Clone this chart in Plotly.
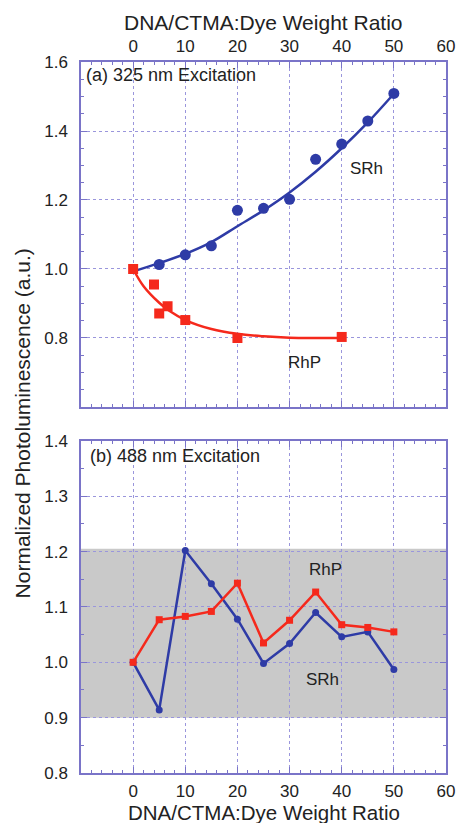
import plotly.graph_objects as go

# ---- data ----
# (a) 325 nm excitation
a_srh_x = [5, 10, 15, 20, 25, 30, 35, 40, 45, 50]
a_srh_y = [1.013, 1.041, 1.067, 1.170, 1.176, 1.202, 1.318, 1.362, 1.429, 1.509]
a_srh_fit_x = [0, 5, 10, 15, 20, 25, 30, 35, 40, 45, 50]
a_srh_fit_y = [0.993, 1.017, 1.044, 1.078, 1.124, 1.170, 1.222, 1.282, 1.350, 1.425, 1.508]

a_rhp_x = [0, 4, 5, 6.6, 10, 20, 40]
a_rhp_y = [1.000, 0.955, 0.871, 0.892, 0.852, 0.800, 0.803]
a_rhp_fit_x = [0, 2, 5, 7, 10, 15, 20, 25, 30, 35, 40]
a_rhp_fit_y = [1.000, 0.950, 0.902, 0.878, 0.852, 0.826, 0.812, 0.805, 0.801, 0.800, 0.800]

# (b) 488 nm excitation
b_x = [0, 5, 10, 15, 20, 25, 30, 35, 40, 45, 50]
b_srh_y = [1.000, 0.914, 1.202, 1.142, 1.078, 0.998, 1.034, 1.090, 1.046, 1.055, 0.987]
b_rhp_y = [1.000, 1.077, 1.083, 1.092, 1.143, 1.035, 1.076, 1.127, 1.068, 1.063, 1.055]
b_band = [0.9, 1.205]

x_range = [-10, 60]
x_ticks = [0, 10, 20, 30, 40, 50, 60]
a_y_ticks = [0.8, 1.0, 1.2, 1.4, 1.6]
b_y_ticks = [0.8, 0.9, 1.0, 1.1, 1.2, 1.3, 1.4]

X_TITLE = "DNA/CTMA:Dye Weight Ratio"
Y_TITLE = "Normalized Photoluminescence (a.u.)"

BLUE = "#2e3ba6"
RED = "#f5291c"
FRAME = "#7a74c8"
GRID = "#9a96dc"
TXT = "#222222"
FONT = "Liberation Sans, Arial, sans-serif"

fig = go.Figure()

# top panel (x2, y2)
fig.add_trace(go.Scatter(x=a_srh_fit_x, y=a_srh_fit_y, mode="lines", line=dict(color=BLUE, width=2.5, shape="spline"),
                         xaxis="x2", yaxis="y2", showlegend=False))
fig.add_trace(go.Scatter(x=a_srh_x, y=a_srh_y, mode="markers", marker=dict(color=BLUE, size=11, symbol="circle"),
                         xaxis="x2", yaxis="y2", showlegend=False))
fig.add_trace(go.Scatter(x=a_rhp_fit_x, y=a_rhp_fit_y, mode="lines", line=dict(color=RED, width=2.5, shape="spline"),
                         xaxis="x2", yaxis="y2", showlegend=False))
fig.add_trace(go.Scatter(x=a_rhp_x, y=a_rhp_y, mode="markers", marker=dict(color=RED, size=10, symbol="square"),
                         xaxis="x2", yaxis="y2", showlegend=False))

# bottom panel (x, y)
fig.add_trace(go.Scatter(x=b_x, y=b_srh_y, mode="lines+markers", line=dict(color=BLUE, width=2.5),
                         marker=dict(color=BLUE, size=7, symbol="circle"), showlegend=False))
fig.add_trace(go.Scatter(x=b_x, y=b_rhp_y, mode="lines+markers", line=dict(color=RED, width=2.5),
                         marker=dict(color=RED, size=7, symbol="square"), showlegend=False))

fig.add_shape(type="rect", xref="x", yref="y", x0=x_range[0], x1=x_range[1], y0=b_band[0], y1=b_band[1],
              fillcolor="#c9c9c9", line=dict(width=0), layer="below")

common_x = dict(range=x_range, tickvals=x_ticks, showgrid=True, gridcolor=GRID, griddash="dot", gridwidth=1,
                showline=True, linecolor=FRAME, linewidth=1.5, mirror="allticks", ticks="inside", ticklen=6,
                tickcolor=FRAME, zeroline=False,
                minor=dict(dtick=2, tick0=0, ticks="inside", ticklen=3, tickcolor=FRAME, showgrid=False),
                tickfont=dict(family=FONT, size=17, color=TXT))
common_y = dict(showgrid=True, gridcolor=GRID, griddash="dot", gridwidth=1, showline=True, linecolor=FRAME,
                linewidth=1.5, mirror="allticks", ticks="inside", ticklen=6, tickcolor=FRAME, zeroline=False,
                tickformat=".1f", ticklabelstandoff=8, tickfont=dict(family=FONT, size=17, color=TXT))

# the page body has an 8px default margin, so the figure is sized/margined to land on the reference frame
fig.update_layout(
    width=459, height=815,
    margin=dict(l=73, r=14, t=54, b=50),
    paper_bgcolor="white", plot_bgcolor="white",
    xaxis=dict(**common_x, domain=[0, 1], anchor="y", side="bottom", ticklabelstandoff=2),
    yaxis=dict(**common_y, domain=[0, 0.467], range=[0.8, 1.4], tickvals=b_y_ticks,
               minor=dict(dtick=0.05, tick0=0.8, ticks="inside", ticklen=3, tickcolor=FRAME, showgrid=False),
               anchor="x"),
    xaxis2=dict(**common_x, domain=[0, 1], anchor="y2", side="top", ticklabelstandoff=1),
    yaxis2=dict(**common_y, domain=[0.5148, 1], range=[0.6, 1.6], tickvals=a_y_ticks,
                minor=dict(dtick=0.05, tick0=0.6, ticks="inside", ticklen=3, tickcolor=FRAME, showgrid=False),
                anchor="x2"),
    annotations=[
        dict(text=X_TITLE, xref="paper", yref="paper", x=0.5, y=1.0549, xanchor="center", yanchor="middle",
             showarrow=False, font=dict(family=FONT, size=21, color=TXT)),
        dict(text=X_TITLE, xref="paper", yref="paper", x=0.5, y=-0.0555, xanchor="center", yanchor="middle",
             showarrow=False, font=dict(family=FONT, size=20.5, color=TXT)),
        dict(text=Y_TITLE, xref="paper", yref="paper", x=-0.161, y=0.492,
             xanchor="center", yanchor="middle", textangle=-90, showarrow=False,
             font=dict(family=FONT, size=21, color=TXT)),
        dict(text="(a) 325 nm Excitation", xref="x2 domain", yref="y2 domain", x=0.008, y=0.998,
             xanchor="left", yanchor="top", showarrow=False, font=dict(family=FONT, size=18, color=TXT)),
        dict(text="(b) 488 nm Excitation", xref="x domain", yref="y domain", x=0.02, y=0.99,
             xanchor="left", yanchor="top", showarrow=False, font=dict(family=FONT, size=18, color=TXT)),
        dict(text="SRh", xref="x2", yref="y2", x=44.8, y=1.29, showarrow=False,
             font=dict(family=FONT, size=17, color=TXT)),
        dict(text="RhP", xref="x2", yref="y2", x=32.8, y=0.728, showarrow=False,
             font=dict(family=FONT, size=17, color=TXT)),
        dict(text="RhP", xref="x", yref="y", x=36.9, y=1.167, showarrow=False,
             font=dict(family=FONT, size=17, color=TXT)),
        dict(text="SRh", xref="x", yref="y", x=36.3, y=0.969, showarrow=False,
             font=dict(family=FONT, size=17, color=TXT)),
    ],
)

fig.write_html("out.html")
